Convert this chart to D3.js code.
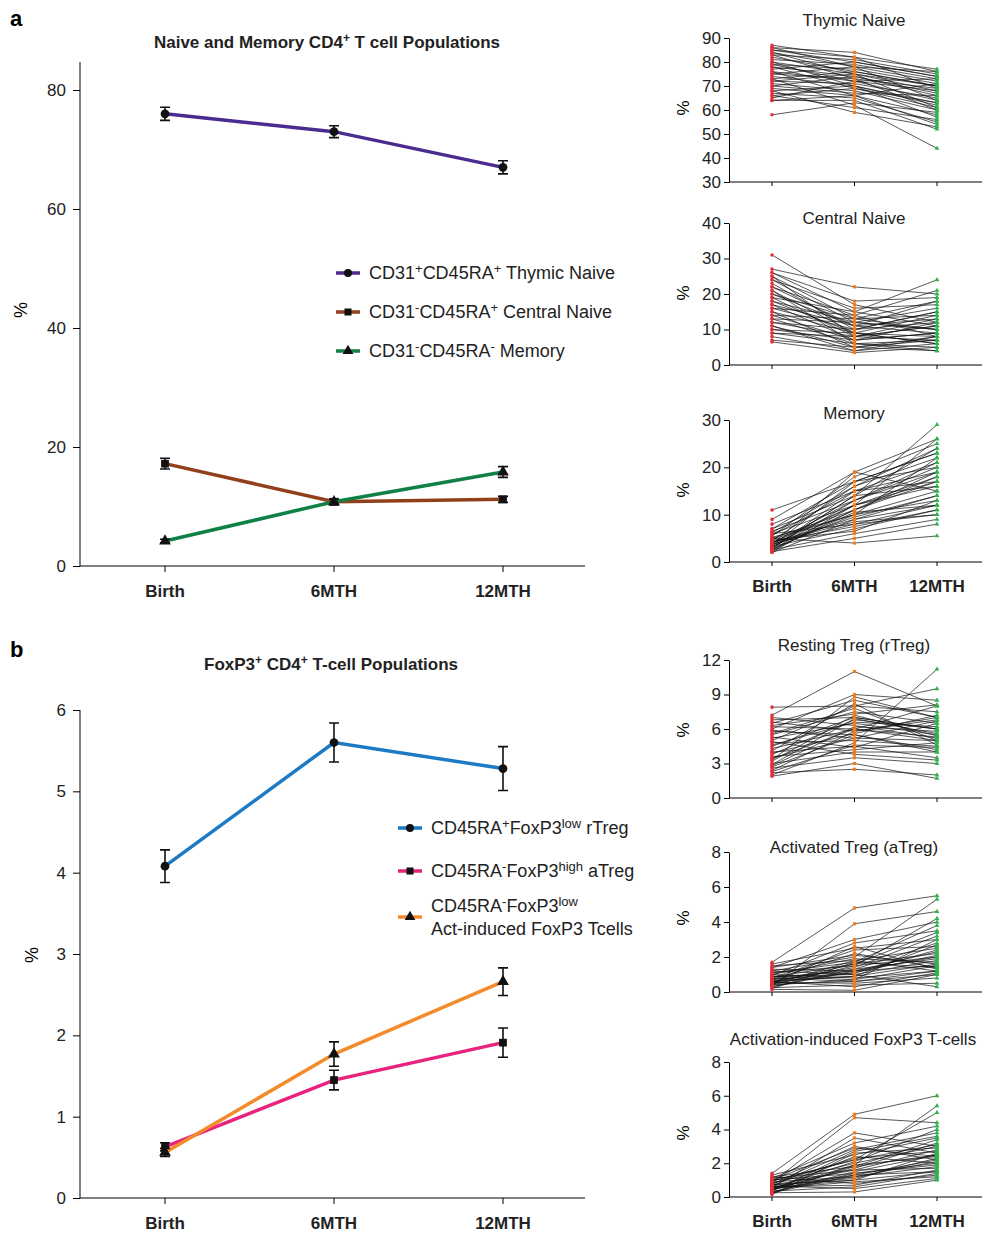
<!DOCTYPE html>
<html><head><meta charset="utf-8">
<script src="https://cdn.jsdelivr.net/npm/d3@7"></script>
<style>body{margin:0;background:#fff;font-family:Arial,"Liberation Sans",sans-serif;}</style>
</head><body><svg id="c" width="992" height="1233"></svg>
<script>
//categories
var times = ["Birth", "6MTH", "12MTH"];

//panel a group means and errors
var thymicMean = [76, 73, 67], thymicErr = [1.1, 1.0, 1.1];
var centralMean = [17.2, 10.8, 11.2], centralErr = [0.9, 0.5, 0.5];
var memoryMean = [4.2, 10.8, 15.8], memoryErr = [0.3, 0.5, 0.9];

//panel b group means and errors
var rtregMean = [4.08, 5.6, 5.28], rtregErr = [0.2, 0.24, 0.27];
var atregMean = [0.63, 1.45, 1.91], atregErr = [0.05, 0.12, 0.18];
var actMean = [0.56, 1.77, 2.66], actErr = [0.05, 0.15, 0.17];

//individual subjects (birth, 6MTH, 12MTH), read approximately
var thymicSubj = [[87,82,77],[86,84,76],[85,80,74],[84,78,72],[83,81,75],[82,76,70],[81,79,73],[80,75,68],[79,77,71],[78,74,66],
 [77,80,74],[76,72,64],[75,73,69],[74,70,62],[73,76,70],[72,71,65],[71,68,60],[70,74,67],[69,66,58],[68,70,63],
 [67,65,55],[66,69,61],[65,72,68],[64,64,52],[86,78,64],[83,73,60],[80,70,57],[76,66,54],[73,62,44],[58,63,59],
 [84,75,70],[79,72,73],[75,78,76],[70,67,66],[66,61,56],[85,82,69],[78,69,63],[72,75,61],[68,59,53],[64,66,71]];
var centralSubj = [[31,17,12],[27,22,20],[26,15,24],[25,13,18],[24,12,10],[23,10,15],[22,14,21],[21,9,8],[20,11,13],[19,8,7],
 [18,12,16],[17,7,9],[16,10,12],[15,9,6],[14,13,14],[13,6,5],[12,8,11],[11,5,7],[10,7,9],[9,6,4],
 [8,4,6],[7,5,8],[6.5,3.5,5],[26,18,19],[24,16,17],[22,11,9],[20,13,10],[18,9,14],[16,14,8],[14,7,12],
 [12,10,15],[10,9,6],[25,8,11],[21,6,7],[17,11,18],[13,12,10],[9,8,13],[19,15,11],[15,5,4],[11,4,8]];
var memorySubj = [[11,17,23],[9,19,26],[8,15,21],[7,14,29],[6.5,13,19],[6,12,18],[5.5,18,25],[5,11,17],[4.8,10,15],[4.5,16,22],
 [4.2,9,14],[4,13,20],[3.8,8,12],[3.5,12,16],[3.3,7,11],[3,14,24],[2.8,10,13],[2.6,6,9],[2.4,11,18],[2.2,5,8],
 [2,9,12],[5,4,5.5],[4,12,26],[3,15,17],[6,8,10],[7,17,20],[2.5,13,21],[3.7,19,15],[4.6,6.5,13],[5.2,10,22],
 [3.2,11,19],[2.9,14,16],[4.3,7.5,11],[6.2,16,24],[3.6,9.5,14],[2.1,12,17],[5.6,15,19],[4.1,8.5,10],[3.4,17,23],[2.7,10.5,12]];
var rtregSubj = [[7.9,8,9.5],[7.2,11,8],[6.8,7,6],[6.5,8.5,7],[6.2,6,5],[6,9,8.5],[5.8,5.5,4],[5.5,7.5,6.5],[5.2,6.5,5.5],[5,8,7.5],
 [4.8,5,4.5],[4.5,7,6],[4.3,6,8],[4,4.5,3.5],[3.8,6.8,6],[3.5,5.2,5],[3.3,8.8,7],[3,4,4],[2.8,6.2,5.8],[2.6,3.5,3],
 [2.4,5.8,6.8],[2.2,2.5,2],[2,4.8,11.2],[1.9,3,1.7],[6.6,5.8,7],[5.6,7.8,5],[4.6,6.6,6.2],[3.6,4.2,4.8],[3.2,7.2,5.4],[2.7,5.5,4.2],
 [7,6.3,5.2],[5.3,4.4,6.5],[4.1,8.2,4.6],[3.9,5.6,7.2],[2.9,6.9,5.6],[4.9,3.8,3.3],[6.3,7.3,8.1],[3.4,6,5.3],[5.9,5.2,6.7],[2.3,4.6,4.4]];
var atregSubj = [[1.7,4.8,5.5],[1.6,2.5,3],[1.5,1.8,2.5],[1.4,3,4],[1.3,1.2,1.5],[1.2,2,5.3],[1.1,1.5,2],[1,0.8,1.2],[0.95,2.8,3.5],[0.9,1,1.8],
 [0.85,1.6,2.2],[0.8,0.6,1],[0.75,1.3,2.8],[0.7,2.2,1.4],[0.65,0.9,1.6],[0.6,1.4,3.2],[0.55,0.5,0.8],[0.5,1.1,2.4],[0.45,1.8,1.2],[0.4,0.7,1.5],
 [0.35,3.9,4.6],[0.3,1.2,2],[0.25,0.4,0.5],[0.2,1.7,3.8],[0.15,0.1,1],[1.2,1,0.3],[0.8,2.4,2.6],[0.6,0.3,1.1],[0.4,1.5,4.2],[1,1.9,1.7],
 [0.7,1.1,2.1],[0.5,2.6,1.3],[0.9,0.7,3],[0.3,1.3,1.9],[1.1,1.7,1.4],[0.6,0.9,2.7],[1.4,2.1,1.6],[0.45,0.6,1.2],[0.85,1.2,2.3],[0.55,1.6,3.4]];
var actSubj = [[1.4,4.9,6],[1.3,2.5,3.5],[1.2,1.8,2.5],[1.1,3.2,4.2],[1,1.4,2],[0.95,2.2,5],[0.9,1.2,1.8],[0.85,4.7,4.4],[0.8,2,3],[0.75,1,1.5],
 [0.7,1.6,2.8],[0.65,2.8,3.8],[0.6,1.3,2.2],[0.55,3.5,2.6],[0.5,0.9,1.2],[0.45,1.7,3.2],[0.4,2.4,2],[0.35,0.6,1.4],[0.3,1.5,2.5],[0.25,0.3,1],
 [0.2,1.9,5.4],[0.15,2.6,2.9],[1.2,0.8,1.3],[0.9,3.8,3],[0.7,1.1,2.3],[0.5,2.1,4],[0.3,1.4,1.9],[1,2.9,2.4],[0.6,0.7,1.6],[0.4,1.8,3.4],
 [0.8,2.3,2.7],[0.5,1.2,2.1],[1.1,1.6,1.7],[0.35,2.7,3.6],[0.65,0.5,1.1],[0.45,1.9,2.4],[0.75,3,2.2],[0.55,1,2.6],[0.25,1.3,1.5],[0.95,2.2,3.1]];

var svg = d3.select("#c");
var fam = "Arial, 'Liberation Sans', sans-serif";
var markColours = ["#e0303c", "#f07b1e", "#2db34a"];

function symbolPath(type, size){
	var t = type == "circle" ? d3.symbolCircle : type == "square" ? d3.symbolSquare : d3.symbolTriangle;
	return d3.symbol().type(t).size(size)();
}

//add text with superscript parts: [text, isSup]
function richText(sel, parts, supSize, supShift){
	var up = false;
	parts.forEach(function(p){
		var ts = sel.append("tspan").text(p[0]);
		if (p[1]) { ts.attr("font-size", supSize).attr("dy", -supShift); up = true; }
		else if (up) { ts.attr("dy", supShift); up = false; }
	});
}

//big summary panel
function mainPanel(cfg){
	var x = d3.scalePoint().domain(times).range([165, 503]);
	var y = d3.scaleLinear().domain(cfg.domain).range([cfg.y0, cfg.y1]);
	var g = svg.append("g");
	g.append("g").attr("transform", "translate(80,0)")
		.call(d3.axisLeft(y).tickValues(cfg.ticks).tickFormat(d3.format("d")).tickSize(7).tickSizeOuter(0))
		.call(function(a){ a.select(".domain").attr("d", "M0," + cfg.y0 + "V" + cfg.top); });
	g.append("line").attr("x1", 80).attr("x2", 585).attr("y1", cfg.y0).attr("y2", cfg.y0).attr("stroke", "#000");
	times.forEach(function(t){
		g.append("line").attr("x1", x(t)).attr("x2", x(t)).attr("y1", cfg.y0).attr("y2", cfg.y0 + 6).attr("stroke", "#000");
		g.append("text").attr("x", x(t)).attr("y", cfg.y0 + 31).attr("text-anchor", "middle")
			.attr("font-weight", "bold").attr("font-size", 17).attr("fill", "#222").text(t);
	});
	g.selectAll(".tick text").attr("font-size", 17).attr("font-family", fam).attr("fill", "#222").attr("x", -14);
	g.selectAll(".tick line").attr("x2", -7);
	g.append("text").attr("transform", "translate(" + cfg.pctX + "," + cfg.pctY + ") rotate(-90)")
		.attr("text-anchor", "middle").attr("font-size", 18).text("%");
	cfg.series.forEach(function(s){
		g.append("path").datum(s.mean).attr("fill", "none").attr("stroke", s.colour).attr("stroke-width", 3.5)
			.attr("d", d3.line().x(function(d, i){ return x(times[i]); }).y(function(d){ return y(d); }));
		s.mean.forEach(function(m, i){
			var cx = x(times[i]), e = s.err[i];
			g.append("path").attr("stroke", "#111").attr("stroke-width", 1.6).attr("fill", "none")
				.attr("d", "M" + cx + "," + y(m - e) + "V" + y(m + e) + "M" + (cx - 5) + "," + y(m - e) + "h10M" + (cx - 5) + "," + y(m + e) + "h10");
			g.append("path").attr("d", symbolPath(s.shape, 60)).attr("transform", "translate(" + cx + "," + y(m) + ")").attr("fill", "#111");
		});
	});
	cfg.legend.forEach(function(l, i){
		var s = cfg.series[i];
		g.append("line").attr("x1", l.x).attr("x2", l.x + 24).attr("y1", l.y).attr("y2", l.y).attr("stroke", s.colour).attr("stroke-width", 3.5);
		g.append("path").attr("d", symbolPath(s.shape, 50)).attr("transform", "translate(" + (l.x + 12) + "," + l.y + ")").attr("fill", "#111");
		var n = l.lines.length;
		l.lines.forEach(function(parts, k){
			var tx = g.append("text").attr("x", l.x + 33).attr("y", l.y + 6 + (k - (n - 1) / 2) * 23)
				.attr("font-size", 18).attr("fill", "#222");
			richText(tx, parts, 13, 6);
		});
	});
	var tt = g.append("text").attr("x", cfg.titleX).attr("y", cfg.titleY).attr("text-anchor", "middle")
		.attr("font-weight", "bold").attr("font-size", 17).attr("fill", "#222");
	richText(tt, cfg.title, 12, 6);
}

//small spaghetti panel
function smallPanel(cfg){
	var x = d3.scalePoint().domain(times).range([772, 937]);
	var y = d3.scaleLinear().domain(cfg.domain).range([cfg.y0, cfg.y1]);
	var g = svg.append("g");
	g.append("g").attr("transform", "translate(729,0)")
		.call(d3.axisLeft(y).tickValues(cfg.ticks).tickSize(5).tickSizeOuter(0))
		.call(function(a){ a.selectAll("text").attr("font-size", 17).attr("font-family", fam).attr("fill", "#222"); });
	g.append("line").attr("x1", 729).attr("x2", 982).attr("y1", cfg.y0).attr("y2", cfg.y0).attr("stroke", "#000");
	times.forEach(function(t){
		g.append("line").attr("x1", x(t)).attr("x2", x(t)).attr("y1", cfg.y0).attr("y2", cfg.y0 + 4).attr("stroke", "#000");
		if (cfg.labels) g.append("text").attr("x", x(t)).attr("y", cfg.y0 + 30).attr("text-anchor", "middle")
			.attr("font-weight", "bold").attr("font-size", 17).attr("fill", "#222").text(t);
	});
	g.append("text").attr("transform", "translate(689," + cfg.pctY + ") rotate(-90)").attr("text-anchor", "middle").attr("font-size", 17).text("%");
	g.append("text").attr("x", cfg.titleX || 854).attr("y", cfg.titleY).attr("text-anchor", "middle").attr("font-size", 17).attr("fill", "#222").text(cfg.title);
	var line = d3.line().x(function(d, i){ return x(times[i]); }).y(function(d){ return y(d); });
	g.selectAll(".subj").data(cfg.data).enter().append("path").attr("fill", "none").attr("stroke", "#111")
		.attr("stroke-width", 0.7).attr("d", line);
	var shapes = ["circle", "square", "triangle"];
	cfg.data.forEach(function(d){
		d.forEach(function(v, i){
			g.append("path").attr("d", symbolPath(shapes[i], 10)).attr("fill", markColours[i])
				.attr("transform", "translate(" + x(times[i]) + "," + y(v) + ")");
		});
	});
}

svg.append("text").attr("x", 10).attr("y", 26).attr("font-weight", "bold").attr("font-size", 22).text("a");
svg.append("text").attr("x", 10).attr("y", 657).attr("font-weight", "bold").attr("font-size", 22).text("b");

mainPanel({
	domain: [0, 80], y0: 566, y1: 90, top: 62, ticks: [0, 20, 40, 60, 80], pctX: 27, pctY: 310,
	titleX: 327, titleY: 48, title: [["Naive and Memory CD4"], ["+", 1], [" T cell Populations"]],
	series: [
		{mean: thymicMean, err: thymicErr, colour: "#4b2b8f", shape: "circle"},
		{mean: centralMean, err: centralErr, colour: "#923f1c", shape: "square"},
		{mean: memoryMean, err: memoryErr, colour: "#118046", shape: "triangle"}
	],
	legend: [
		{x: 336, y: 273, lines: [[["CD31"], ["+", 1], ["CD45RA"], ["+", 1], [" Thymic Naive"]]]},
		{x: 336, y: 312, lines: [[["CD31"], ["-", 1], ["CD45RA"], ["+", 1], [" Central Naive"]]]},
		{x: 336, y: 351, lines: [[["CD31"], ["-", 1], ["CD45RA"], ["-", 1], [" Memory"]]]}
	]
});

mainPanel({
	domain: [0, 6], y0: 1198, y1: 710, top: 710, ticks: [0, 1, 2, 3, 4, 5, 6], pctX: 38, pctY: 955,
	titleX: 331, titleY: 670, title: [["FoxP3"], ["+", 1], [" CD4"], ["+", 1], [" T-cell Populations"]],
	series: [
		{mean: rtregMean, err: rtregErr, colour: "#1d7ac4", shape: "circle"},
		{mean: atregMean, err: atregErr, colour: "#e8237d", shape: "square"},
		{mean: actMean, err: actErr, colour: "#f48b2a", shape: "triangle"}
	],
	legend: [
		{x: 398, y: 828, lines: [[["CD45RA"], ["+", 1], ["FoxP3"], ["low", 1], [" rTreg"]]]},
		{x: 398, y: 871, lines: [[["CD45RA"], ["-", 1], ["FoxP3"], ["high", 1], [" aTreg"]]]},
		{x: 398, y: 917, lines: [[["CD45RA"], ["-", 1], ["FoxP3"], ["low", 1]], [["Act-induced FoxP3 Tcells"]]]}
	]
});

smallPanel({data: thymicSubj, domain: [30, 90], y0: 182, y1: 38, ticks: [30, 40, 50, 60, 70, 80, 90], pctY: 108, title: "Thymic Naive", titleY: 26});
smallPanel({data: centralSubj, domain: [0, 40], y0: 365, y1: 223, ticks: [0, 10, 20, 30, 40], pctY: 293, title: "Central Naive", titleY: 224});
smallPanel({data: memorySubj, domain: [0, 30], y0: 562, y1: 420, ticks: [0, 10, 20, 30], pctY: 490, title: "Memory", titleY: 419, labels: true});
smallPanel({data: rtregSubj, domain: [0, 12], y0: 798, y1: 660, ticks: [0, 3, 6, 9, 12], pctY: 730, title: "Resting Treg (rTreg)", titleY: 651});
smallPanel({data: atregSubj, domain: [0, 8], y0: 992, y1: 852, ticks: [0, 2, 4, 6, 8], pctY: 918, title: "Activated Treg (aTreg)", titleY: 853});
smallPanel({data: actSubj, domain: [0, 8], y0: 1197, y1: 1062, ticks: [0, 2, 4, 6, 8], pctY: 1133, title: "Activation-induced FoxP3 T-cells", titleX: 853, titleY: 1045, labels: true});
</script></body></html>
